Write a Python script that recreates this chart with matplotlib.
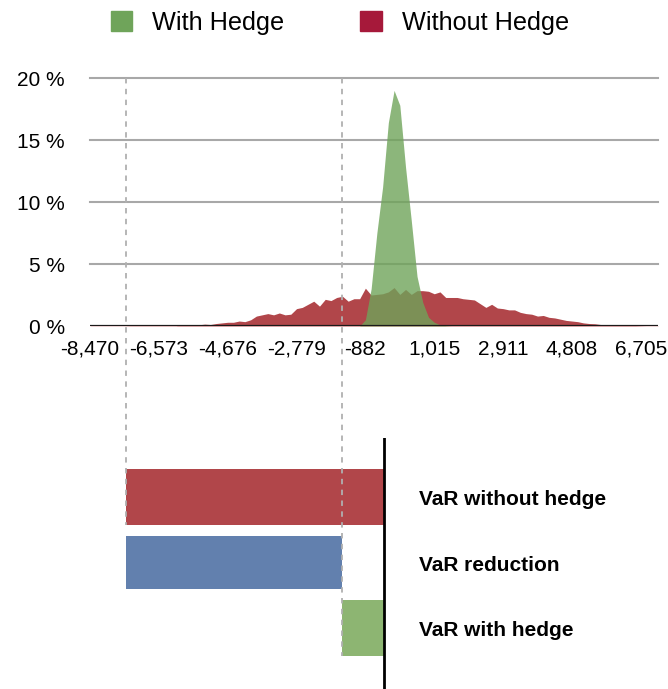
import matplotlib
matplotlib.use("Agg")
import matplotlib.pyplot as plt
from matplotlib.patches import Patch
from matplotlib.transforms import blended_transform_factory
import numpy as np

plt.rcParams['font.family'] = ['Liberation Sans', 'DejaVu Sans']

# ---- data ----
x_start = -8470.0
bin_step = 1896.875 / 12.0
tick_labels = ["-8,470", "-6,573", "-4,676", "-2,779", "-882", "1,015", "2,911", "4,808", "6,705"]

without_hedge = [
    0.02, 0.02, 0.02, 0.02, 0.02, 0.02, 0.02, 0.03, 0.03, 0.03,
    0.03, 0.03, 0.03, 0.03, 0.03, 0.03, 0.08, 0.05, 0.07, 0.10,
    0.15, 0.12, 0.20, 0.25, 0.30, 0.30, 0.40, 0.35, 0.50, 0.80,
    0.90, 1.00, 0.90, 1.05, 0.90, 0.95, 1.40, 1.50, 1.75, 2.00,
    1.60, 2.15, 2.05, 2.30, 2.40, 2.00, 2.20, 2.20, 3.05, 2.50,
    2.55, 2.60, 2.75, 3.10, 2.55, 2.95, 2.55, 2.85, 2.85, 2.80,
    2.60, 2.75, 2.30, 2.30, 2.30, 2.20, 2.15, 2.10, 1.80, 1.50,
    1.75, 1.45, 1.40, 1.30, 1.30, 1.10, 1.00, 0.95, 0.80, 0.85,
    0.70, 0.65, 0.55, 0.45, 0.40, 0.35, 0.25, 0.20, 0.18, 0.12,
    0.10, 0.08, 0.06, 0.05, 0.04, 0.04, 0.03, 0.02, 0.02, 0.02,
]
with_hedge = [0.0] * 47 + [
    0.0, 0.5, 3.0, 7.5, 11.2, 16.4, 19.0, 17.8, 12.8, 8.5,
    4.0, 1.9, 0.7, 0.3, 0.1, 0.03,
] + [0.0] * 37

bar_labels = ["VaR without hedge", "VaR reduction", "VaR with hedge"]
var_without = 7090.0
var_with = 1160.0
var_reduction = var_without - var_with

# ---- colours ----
c_red_fill = '#b1464a'
c_green_fill = '#6fa45a'
c_red_leg = '#a6193a'
c_green_leg = '#6fa45a'
c_blue = '#6280ae'
c_green_bar = '#8db572'

W, H = 668, 689
fig = plt.figure(figsize=(W / 100, H / 100), dpi=100)

def frac(l, t, r, b):
    return [l / W, 1 - b / H, (r - l) / W, (b - t) / H]

x = x_start + bin_step * np.arange(len(without_hedge))

ax1 = fig.add_axes(frac(90, 78, 658, 326))
ax1.fill_between(x, 0, without_hedge, color=c_red_fill, lw=0, zorder=2)
ax1.fill_between(x, 0, with_hedge, color=c_green_fill, alpha=0.8, lw=0, zorder=3)
ax1.set_xlim(x_start + 0.17 * bin_step, x[-1])
ax1.set_ylim(0, 20)
for yv in [5, 10, 15, 20]:
    ax1.axhline(yv, color='#a8a8a8', lw=1.5, zorder=1, clip_on=False)
ax1.axhline(0, color='#1a1a1a', lw=1.6, zorder=4)
ax1.set_yticks([0, 5, 10, 15, 20])
ax1.set_yticklabels([f"{v} %" for v in [0, 5, 10, 15, 20]])
tick_vals = [float(t.replace(',', '')) for t in tick_labels]
ax1.set_xticks(tick_vals)
ax1.set_xticklabels(tick_labels)
for t in ax1.get_xticklabels():
    t.set_clip_on(False)
ax1.tick_params(axis='y', length=0, pad=18, labelsize=15)
ax1.tick_params(axis='x', length=0, pad=10, labelsize=15)
for s in ax1.spines.values():
    s.set_visible(False)
ax1.patch.set_alpha(0)

# ---- bottom bar chart ----
ax2 = fig.add_axes(frac(90, 438, 658, 689))
px_unit = 7090.0 / 258.0
ax2.set_xlim(-(384 - 90) * px_unit, (658 - 384) * px_unit)
ax2.set_ylim((689 - 497) / 65.5, -(497 - 438) / 65.5)
bh = 0.855
ax2.barh(0, var_without, left=-var_without, height=bh, color=c_red_fill, lw=0)
ax2.barh(1, var_reduction, left=-var_without, height=bh * 0.96, color=c_blue, lw=0)
ax2.barh(2, var_with, left=-var_with, height=bh, color=c_green_bar, lw=0)
ax2.axvline(0, color='black', lw=2)
for i, lab in enumerate(bar_labels):
    ax2.annotate(lab, xy=(0, i), xytext=(25, -2), textcoords='offset points',
                 va='center', ha='left', fontsize=15, fontweight='bold')
ax2.axis('off')

# dashed guide lines from top chart down to bars
tr = blended_transform_factory(ax2.transData, fig.transFigure)
y_top = 1 - 78 / H
for xv, ybot in [(-var_without, 525), (-var_with, 656)]:
    fig.add_artist(plt.Line2D([xv, xv], [y_top, 1 - ybot / H], transform=tr,
                              color='#b0b0b0', lw=1.3, ls=(0, (3, 3)), zorder=10))

# legend
handles = [Patch(color=c_green_leg, label='With Hedge'), Patch(color=c_red_leg, label='Without Hedge')]
fig.legend(handles=handles, loc='center left', bbox_to_anchor=(111 / W, 1 - 23 / H),
           ncol=2, frameon=False, fontsize=18.2, handlelength=0.84, handleheight=0.84,
           handletextpad=0.8, columnspacing=3.0, borderpad=0, borderaxespad=0)

fig.savefig('out.png', dpi=100)
